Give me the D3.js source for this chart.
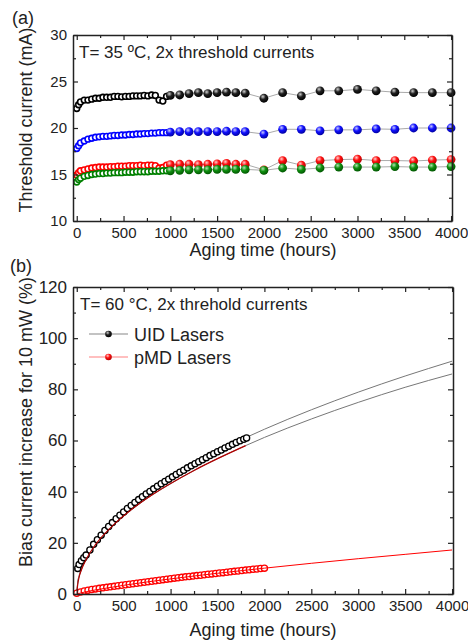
<!DOCTYPE html>
<html>
<head>
<meta charset="utf-8">
<script src="https://cdn.jsdelivr.net/npm/d3@7"></script>
<style>
  body { margin: 0; background: #fff; }
  svg { display: block; font-family: "Liberation Sans", Arial, sans-serif; }
  .axis path, .axis line { stroke: #222; }
  .axis path { stroke-width: 1.5; }
  .axis line { stroke-width: 1.2; }
  .axis text { fill: #222; }
</style>
</head>
<body>
<div id="chart"></div>
<script>
// ---- panel (a): threshold current at 35 C, 2x threshold currents ----
const agingA = [0, 20, 40, 80, 120, 160, 200, 240, 280, 320, 360, 400, 440, 480, 520, 560, 600, 640, 680, 720, 760, 800, 840, 880, 920, 960, 1000,
  1100, 1200, 1300, 1400, 1500, 1600, 1700, 1800,
  2000, 2200, 2400, 2600, 2800, 3000, 3200, 3400, 3600, 3800, 4000]
const blackA = [22.1, 22.5, 22.8, 23.0, 23.0, 23.1, 23.2, 23.2, 23.3, 23.3, 23.3, 23.4, 23.4, 23.35, 23.4, 23.4, 23.45, 23.45, 23.45, 23.5, 23.45, 23.55, 23.5, 23.0, 22.9, 23.4, 23.5,
  23.55, 23.7, 23.8, 23.7, 23.8, 23.85, 23.8, 23.75,
  23.2, 23.8, 23.45, 24.0, 24.0, 24.15, 24.0, 23.85, 23.8, 23.8, 23.8]
const blueA = [17.8, 18.1, 18.4, 18.6, 18.8, 18.9, 19.0, 19.05, 19.1, 19.1, 19.15, 19.2, 19.2, 19.25, 19.25, 19.3, 19.3, 19.35, 19.35, 19.4, 19.4, 19.45, 19.45, 19.5, 19.5, 19.5, 19.55,
  19.6, 19.6, 19.6, 19.62, 19.62, 19.65, 19.62, 19.6,
  19.35, 19.86, 19.86, 19.7, 19.8, 19.8, 19.9, 19.86, 20.0, 20.0, 20.0]
const redA = [14.95, 15.2, 15.4, 15.5, 15.6, 15.7, 15.75, 15.8, 15.8, 15.8, 15.85, 15.85, 15.9, 15.9, 15.9, 15.95, 15.95, 15.95, 16.0, 15.95, 16.0, 16.0, 15.95, 15.7, 15.75, 16.0, 16.05,
  16.1, 16.1, 16.05, 16.1, 16.15, 16.2, 16.1, 16.1,
  15.5, 16.5, 16.0, 16.5, 16.6, 16.65, 16.5, 16.5, 16.45, 16.55, 16.6]
const greenA = [14.2, 14.45, 14.6, 14.8, 14.9, 15.0, 15.05, 15.1, 15.1, 15.15, 15.15, 15.2, 15.2, 15.2, 15.25, 15.25, 15.25, 15.3, 15.3, 15.3, 15.3, 15.35, 15.35, 15.35, 15.4, 15.4, 15.4,
  15.45, 15.5, 15.5, 15.5, 15.55, 15.55, 15.55, 15.55,
  15.45, 15.7, 15.55, 15.7, 15.8, 15.8, 15.8, 15.85, 15.8, 15.8, 15.85]

// ---- panel (b): bias current increase at 60 C ----
const agingUID = [10, 25, 50, 75, 100, 140, 180, 220, 260, 300, 340, 380, 420, 460, 500, 540, 580, 620, 660, 700, 740, 780, 820, 860, 900, 940, 980,
  1020, 1060, 1100, 1140, 1180, 1220, 1260, 1300, 1340, 1380, 1420, 1460, 1500, 1540, 1580, 1620, 1660, 1700, 1740, 1780, 1810]
const uidB = [10.0, 11.5, 13.0, 14.2, 15.2, 17.2, 19.4, 21.2, 23.0, 24.8, 26.4, 27.9, 29.4, 30.8, 32.1, 33.4, 34.6, 35.8, 36.9, 38.0, 39.1, 40.1, 41.1, 42.1, 43.1, 44.0, 44.9,
  45.8, 46.7, 47.6, 48.4, 49.3, 50.1, 50.9, 51.7, 52.5, 53.3, 54.1, 54.8, 55.6, 56.3, 57.1, 57.8, 58.5, 59.2, 59.9, 60.5, 61.0]
const agingPMD = [0, 40, 80, 120, 160, 200, 240, 280, 320, 360, 400, 440, 480, 520, 560, 600, 640, 680, 720, 760, 800,
  840, 880, 920, 960, 1000, 1040, 1080, 1120, 1160, 1200, 1240, 1280, 1320, 1360, 1400, 1440, 1480, 1520, 1560, 1600,
  1640, 1680, 1720, 1760, 1800, 1840, 1880, 1920, 1960, 2000]
const pmdB = [0.3, 0.8, 1.2, 1.5, 1.8, 2.0, 2.2, 2.4, 2.6, 2.8, 3.0, 3.2, 3.4, 3.6, 3.8, 4.0, 4.2, 4.4, 4.6, 4.8, 5.0,
  5.2, 5.4, 5.6, 5.8, 6.0, 6.2, 6.35, 6.5, 6.7, 6.85, 7.0, 7.2, 7.35, 7.5, 7.7, 7.85, 8.0, 8.2, 8.35, 8.5,
  8.7, 8.85, 9.0, 9.2, 9.35, 9.5, 9.65, 9.8, 9.95, 10.1]

// fitted curves
const fitT = [0, 10, 25, 50, 100, 200, 400, 600, 800, 1000, 1250, 1500, 1800, 2000, 2500, 3000, 3500, 4000]
const uidFitHigh = [0, 4.6, 7.2, 10.2, 14.4, 20.4, 28.8, 35.3, 40.7, 45.5, 50.9, 55.8, 61.1, 64.4, 72.0, 78.9, 85.2, 91.0]
const uidFitLow = [0, 4.3, 6.8, 9.6, 13.6, 19.3, 27.2, 33.4, 38.6, 43.1, 48.3, 52.9, 58.0, 61.2, 68.4, 74.9, 80.8, 86.0]
const uidFitRedT = [0, 10, 25, 50, 100, 200, 400, 600, 800, 1000, 1250, 1500, 1800]
const uidFitRed = [0, 3.6, 6.6, 9.5, 13.5, 19.3, 27.3, 33.5, 38.7, 43.2, 48.3, 52.9, 58.0]
const pmdFitT = [0, 100, 250, 500, 1000, 1500, 2000, 2500, 3000, 3500, 4000]
const pmdFit = [0, 0.9, 1.9, 3.4, 5.9, 8.1, 10.1, 12.0, 13.8, 15.5, 17.2]

const xTicks = [0, 500, 1000, 1500, 2000, 2500, 3000, 3500, 4000]
const xMinor = [250, 750, 1250, 1750, 2250, 2750, 3250, 3750]
const yTicksA = [10, 15, 20, 25, 30]
const yMinorA = [12.5, 17.5, 22.5, 27.5]
const yTicksB = [0, 20, 40, 60, 80, 100, 120]
const yMinorB = [10, 30, 50, 70, 90, 110]

const width = 468, height = 644
const svg = d3.select("#chart").append("svg")
  .attr("width", width)
  .attr("height", height)

// sphere gradients
const defs = svg.append("defs")
function sphere(id, light, mid, dark) {
  let g = defs.append("radialGradient").attr("id", id)
    .attr("cx", "38%").attr("cy", "32%").attr("r", "70%")
  g.append("stop").attr("offset", "0%").attr("stop-color", light)
  g.append("stop").attr("offset", "45%").attr("stop-color", mid)
  g.append("stop").attr("offset", "100%").attr("stop-color", dark)
}
sphere("sp-black", "#d0d0d0", "#202020", "#000")
sphere("sp-blue", "#c8c8ff", "#1010ff", "#0000a0")
sphere("sp-red", "#ffd0d0", "#ff1010", "#b00000")
sphere("sp-green", "#b0e0b0", "#109010", "#005500")

// frame with inward ticks on all sides
function frame(x, y, yTicks, yMinor, yFont, xFont) {
  let [x0, x1] = x.range(), [y0, y1] = y.range()
  let axes = [
    { ax: d3.axisBottom(x), t: `translate(0,${y0})`, lab: true, font: xFont, v: xTicks, m: xMinor },
    { ax: d3.axisTop(x), t: `translate(0,${y1})`, lab: false, v: xTicks, m: xMinor },
    { ax: d3.axisLeft(y), t: `translate(${x0},0)`, lab: true, font: yFont, v: yTicks, m: yMinor },
    { ax: d3.axisRight(y), t: `translate(${x1},0)`, lab: false, v: yTicks, m: yMinor }
  ]
  axes.forEach(a => {
    let g = svg.append("g").attr("class", "axis").attr("transform", a.t)
    g.call(a.ax.tickValues(a.v).tickSizeInner(-5).tickSizeOuter(0).tickPadding(6)
      .tickFormat(a.lab ? d3.format("d") : ""))
    g.selectAll("text").attr("font-size", a.font).attr("font-family", "Liberation Sans, Arial")
    let gm = svg.append("g").attr("class", "axis").attr("transform", a.t)
    gm.call(a.ax.tickValues(a.m).tickSizeInner(-3).tickSizeOuter(0).tickFormat(""))
    gm.select(".domain").remove()
  })
}

// ================= panel (a) =================
const xA = d3.scaleLinear().domain([-40, 4010]).range([73, 452])
const yA = d3.scaleLinear().domain([10, 30]).range([221, 35])
const lineA = d3.line().x(d => xA(d[0])).y(d => yA(d[1]))

const seriesA = [
  { v: blackA, c: "#000", sp: "sp-black" },
  { v: blueA, c: "#0000ff", sp: "sp-blue" },
  { v: redA, c: "#ff0000", sp: "sp-red" },
  { v: greenA, c: "#008000", sp: "sp-green" }
]
seriesA.forEach(s => {
  let pts = agingA.map((t, i) => [t, s.v[i]])
  svg.append("path").datum(pts).attr("d", lineA)
    .attr("fill", "none").attr("stroke", "#aaa").attr("stroke-width", 1)
  svg.append("g").selectAll("circle").data(pts).enter().append("circle")
    .attr("cx", d => xA(d[0]))
    .attr("cy", d => yA(d[1]))
    .attr("r", d => d[0] < 1000 ? 2.9 : 4.4)
    .attr("fill", d => d[0] < 1000 ? "#fff" : `url(#${s.sp})`)
    .attr("stroke", d => d[0] < 1000 ? s.c : "none")
    .attr("stroke-width", 1.6)
})
frame(xA, yA, yTicksA, yMinorA, 15, 15)

svg.append("text").attr("x", 12).attr("y", 24).attr("font-size", 18).attr("fill", "#222").text("(a)")
svg.append("text").attr("x", 79).attr("y", 58).attr("font-size", 17).attr("fill", "#222")
  .text("T= 35 ºC, 2x threshold currents")
svg.append("text").attr("x", 263).attr("y", 256).attr("text-anchor", "middle")
  .attr("font-size", 18).attr("fill", "#222").text("Aging time (hours)")
svg.append("text").attr("transform", "translate(32,120) rotate(-90)").attr("text-anchor", "middle")
  .attr("font-size", 18).attr("fill", "#222").text("Threshold current (mA)")

// ================= panel (b) =================
const xB = d3.scaleLinear().domain([-40, 4010]).range([73, 453])
const yB = d3.scaleLinear().domain([0, 120]).range([594, 287])
const lineB = d3.line().x(d => xB(d[0])).y(d => yB(d[1])).curve(d3.curveMonotoneX)
const zip = (t, v) => t.map((d, i) => [d, v[i]])

svg.append("path").datum(zip(fitT, uidFitHigh)).attr("d", lineB)
  .attr("fill", "none").attr("stroke", "#777").attr("stroke-width", 1)
svg.append("path").datum(zip(fitT, uidFitLow)).attr("d", lineB)
  .attr("fill", "none").attr("stroke", "#777").attr("stroke-width", 1)

svg.append("g").selectAll("circle").data(zip(agingUID, uidB)).enter().append("circle")
  .attr("cx", d => xB(d[0])).attr("cy", d => yB(d[1])).attr("r", 3.1)
  .attr("fill", "#fff").attr("stroke", "#000").attr("stroke-width", 1.3)
svg.append("path").datum(zip(uidFitRedT, uidFitRed)).attr("d", lineB)
  .attr("fill", "none").attr("stroke", "#b00000").attr("stroke-width", 1.2)

svg.append("g").selectAll("circle").data(zip(agingPMD, pmdB)).enter().append("circle")
  .attr("cx", d => xB(d[0])).attr("cy", d => yB(d[1])).attr("r", 3.1)
  .attr("fill", "#fff").attr("stroke", "#ff0000").attr("stroke-width", 1.3)
svg.append("path").datum(zip(pmdFitT, pmdFit)).attr("d", lineB)
  .attr("fill", "none").attr("stroke", "#ff0000").attr("stroke-width", 1)

frame(xB, yB, yTicksB, yMinorB, 17, 15)

// legend
const legend = [
  { name: "UID Lasers", line: "#888", sp: "sp-black" },
  { name: "pMD Lasers", line: "#ff8080", sp: "sp-red" }
]
legend.forEach((d, i) => {
  let ly = 334 + i * 23
  svg.append("line").attr("x1", 89).attr("x2", 128).attr("y1", ly).attr("y2", ly)
    .attr("stroke", d.line).attr("stroke-width", 1.2)
  svg.append("circle").attr("cx", 108.5).attr("cy", ly).attr("r", 3.3).attr("fill", `url(#${d.sp})`)
  svg.append("text").attr("x", 134).attr("y", ly + 6.5).attr("font-size", 18).attr("fill", "#222").text(d.name)
})

svg.append("text").attr("x", 10).attr("y", 272).attr("font-size", 18).attr("fill", "#222").text("(b)")
svg.append("text").attr("x", 80).attr("y", 310).attr("font-size", 17).attr("fill", "#222")
  .text("T= 60 °C, 2x threhold currents")
svg.append("text").attr("x", 263).attr("y", 636).attr("text-anchor", "middle")
  .attr("font-size", 18).attr("fill", "#222").text("Aging time (hours)")
svg.append("text").attr("transform", "translate(32,422) rotate(-90)").attr("text-anchor", "middle")
  .attr("font-size", 18).attr("fill", "#222").text("Bias current increase for 10 mW (%)")
</script>
</body>
</html>
